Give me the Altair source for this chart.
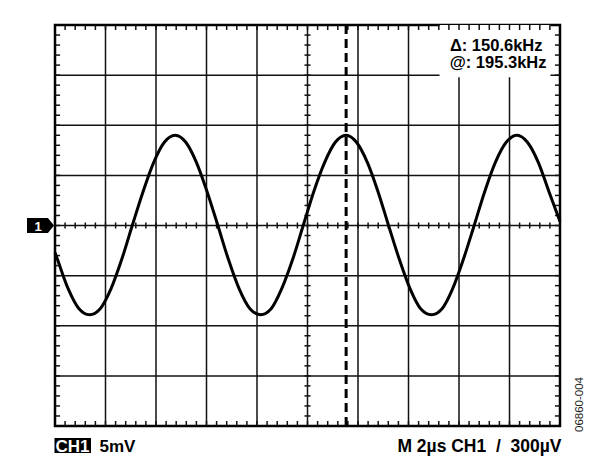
import altair as alt
import pandas as pd
import numpy as np

# ---- trace (time in µs, 2 µs/div; voltage in mV, 5 mV/div)
t_us = [0.00, 0.10, 0.52, 0.95, 1.37, 1.79, 2.22, 2.64, 3.06, 3.49, 3.91, 4.33,
        4.76, 5.18, 5.60, 6.02, 6.45, 6.87, 7.29, 7.72, 8.14, 8.56, 8.98, 9.41,
        9.83, 10.25, 10.68, 11.10, 11.53, 11.94, 12.37, 12.79, 13.21, 13.64,
        14.06, 14.48, 14.91, 15.33, 15.75, 16.17, 16.60, 17.02, 17.44, 17.87,
        18.30, 18.71, 19.14, 19.56, 20.00]
v_mV = [-2.7, -3.4, -6.3, -8.3, -8.9, -8.3, -6.3, -3.4, 0.0, 3.4, 6.3, 8.3,
        9.0, 8.3, 6.3, 3.4, 0.0, -3.4, -6.3, -8.3, -8.9, -8.3, -6.3, -3.4,
        0.0, 3.4, 6.3, 8.3, 9.0, 8.3, 6.3, 3.4, 0.0, -3.4,
        -6.3, -8.3, -8.9, -8.3, -6.3, -3.4, 0.0, 3.4, 6.3, 8.3,
        9.0, 8.3, 6.3, 3.4, 0.4]
cursor_t_us = [11.53]
readout_lines = ["Δ: 150.6kHz", "@: 195.3kHz"]
channel_label = ["CH1"]
scale_label = ["5mV"]
timebase_label = ["M 2µs CH1\u00a0\u00a0/\u00a0\u00a0300µV"]
figure_id = ["06860-004"]
channel_marker = ["1"]
readout_box = {"x": [15.23], "x2": [19.62], "y": [20.0], "y2": [14.8]}

X_DOM = [0, 20]
Y_DOM = [-20, 20]
xs = alt.Scale(domain=X_DOM, nice=False, zero=False)
ys = alt.Scale(domain=Y_DOM, nice=False, zero=False)
INK = "#111111"

# ---- graticule segments
seg = []
for gx in np.arange(2, 20, 2):
    seg.append(("major", gx, gx, -20, 20))
for gy in np.arange(-15, 20, 5):
    seg.append(("major", 0, 20, gy, gy))
for tx in np.arange(0.4, 20, 0.4):
    seg.append(("tick", tx, tx, -0.3, 0.3))
    seg.append(("tick", tx, tx, 20, 19.5))
    seg.append(("tick", tx, tx, -20, -19.5))
for ty in np.arange(-19, 20, 1):
    seg.append(("tick", 9.88, 10.12, ty, ty))
    seg.append(("tick", 0, 0.2, ty, ty))
    seg.append(("tick", 20, 19.8, ty, ty))
seg_df = pd.DataFrame(seg, columns=["kind", "x", "x2", "y", "y2"])

def rules(kind, width):
    return alt.Chart(seg_df[seg_df.kind == kind]).mark_rule(
        color=INK, strokeWidth=width
    ).encode(
        x=alt.X("x:Q", scale=xs, axis=None), x2="x2:Q",
        y=alt.Y("y:Q", scale=ys, axis=None), y2="y2:Q",
    )

major = rules("major", 1.5)
ticks = rules("tick", 1.5)

box = alt.Chart(pd.DataFrame(readout_box)).mark_rect(color="white").encode(
    x=alt.X("x:Q", scale=xs, axis=None), x2="x2:Q",
    y=alt.Y("y:Q", scale=ys, axis=None), y2="y2:Q",
)

trace_df = pd.DataFrame({"t": t_us, "v": v_mV})
trace = alt.Chart(trace_df).mark_line(
    color="black", strokeWidth=3, interpolate="monotone"
).encode(
    x=alt.X("t:Q", scale=xs, axis=None),
    y=alt.Y("v:Q", scale=ys, axis=None),
)

cursor = alt.Chart(pd.DataFrame({"t": cursor_t_us})).mark_rule(
    color="black", strokeWidth=3, strokeDash=[9, 5]
).encode(x=alt.X("t:Q", scale=xs, axis=None))

readout_df = pd.DataFrame({"txt": readout_lines, "px": [487.5, 491.5], "py": [20.5, 37.5]})
readout = alt.Chart(readout_df).mark_text(
    align="right", baseline="middle", font="Liberation Sans", fontWeight="bold",
    fontSize=16.5, color="black"
).encode(
    text="txt:N",
    x=alt.X("px:Q", scale=None),
    y=alt.Y("py:Q", scale=None),
)

# channel marker on the left
marker_df = pd.DataFrame({"v": [0.0], "lab": channel_marker})
marker_shape = alt.Chart(marker_df).mark_point(
    shape="M-1,-0.55L0.55,-0.55L1,0L0.55,0.55L-1,0.55Z",
    size=729, filled=True, color="black", opacity=1, strokeWidth=0
).encode(x=alt.value(-14.5), y=alt.Y("v:Q", scale=ys, axis=None))
marker_text = alt.Chart(marker_df).mark_text(
    font="Liberation Sans", fontWeight="bold", fontSize=13, color="white",
    align="center", baseline="middle"
).encode(x=alt.value(-17), y=alt.value(202), text="lab:N")

# bottom status line
ch_box = alt.Chart(pd.DataFrame({"a": [0]})).mark_rect(color="black").encode(
    x=alt.value(-0.5), x2=alt.value(36), y=alt.value(413), y2=alt.value(428)
)
ch_text = alt.Chart(pd.DataFrame({"lab": channel_label})).mark_text(
    font="Liberation Sans", fontWeight="bold", fontSize=17, color="white",
    align="center", baseline="middle", dy=1
).encode(x=alt.value(17.5), y=alt.value(420.5), text="lab:N")
scale_text = alt.Chart(pd.DataFrame({"lab": scale_label})).mark_text(
    font="Liberation Sans", fontWeight="bold", fontSize=17, color="black",
    align="left", baseline="middle", dy=1
).encode(x=alt.value(44.5), y=alt.value(421), text="lab:N")
tb_text = alt.Chart(pd.DataFrame({"lab": timebase_label})).mark_text(
    font="Liberation Sans", fontWeight="bold", fontSize=17.5, color="black",
    align="right", baseline="middle", dy=1
).encode(x=alt.value(506.5), y=alt.value(421), text="lab:N")
fig_text = alt.Chart(pd.DataFrame({"lab": figure_id})).mark_text(
    font="Liberation Sans", fontSize=11.5, color="#222222", angle=270,
    align="center", baseline="middle"
).encode(x=alt.value(524.5), y=alt.value(379.5), text="lab:N")

chart = alt.layer(
    major, box, ticks, trace, cursor, readout,
    marker_shape, marker_text, ch_box, ch_text, scale_text, tb_text, fig_text
).properties(
    width=505, height=401,
    autosize=alt.AutoSizeParams(type="none"),
    padding={"left": 47, "top": 17, "right": 30, "bottom": 35},
    background="white",
).configure_view(stroke="black", strokeWidth=2.5)

chart.save("out.html", embed_options={"renderer": "svg", "actions": False})
